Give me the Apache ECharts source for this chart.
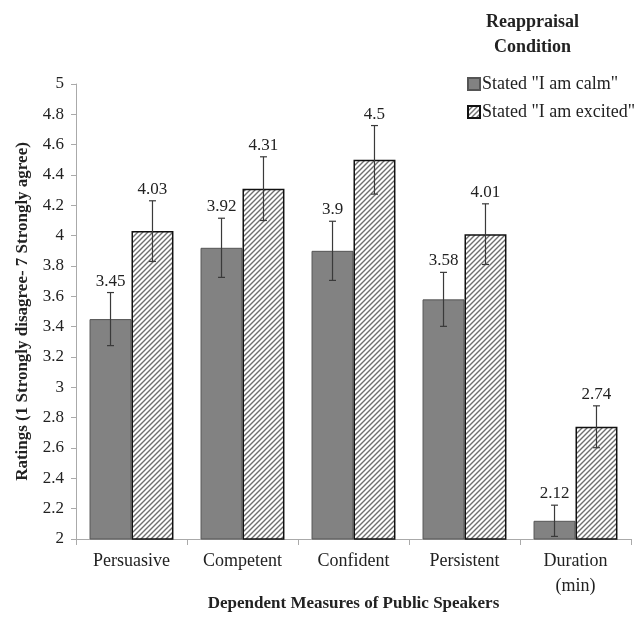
<!DOCTYPE html>
<html>
<head>
<meta charset="utf-8">
<script src="https://cdn.jsdelivr.net/npm/echarts@6/dist/echarts.min.js"></script>
<style>html,body{margin:0;padding:0;background:#fff}#c{width:639px;height:619px}</style>
</head>
<body>
<div id="c"></div>
<script>
const categories = ['Persuasive', 'Competent', 'Confident', 'Persistent', 'Duration\n(min)'];
const calmValues = [3.45, 3.92, 3.9, 3.58, 2.12];
const excitedValues = [4.03, 4.31, 4.5, 4.01, 2.74];
const calmErrors = [0.175, 0.195, 0.195, 0.178, 0.103];
const excitedErrors = [0.2, 0.21, 0.226, 0.2, 0.138];
const yTicks = { min: 2, max: 5, interval: 0.2 };

const FONT = 'Liberation Serif';

function hatch() {
  const s = 5;
  const cv = document.createElement('canvas');
  cv.width = s; cv.height = s;
  const ctx = cv.getContext('2d');
  ctx.fillStyle = '#ffffff';
  ctx.fillRect(0, 0, s, s);
  ctx.strokeStyle = '#707070';
  ctx.lineWidth = 1.4;
  ctx.beginPath();
  ctx.moveTo(0, s); ctx.lineTo(s, 0);
  ctx.moveTo(-1, 1); ctx.lineTo(1, -1);
  ctx.moveTo(s - 1, s + 1); ctx.lineTo(s + 1, s - 1);
  ctx.stroke();
  return cv;
}

const chart = echarts.init(document.getElementById('c'));
const BAR_FRAC = 0.378;

function errSeries(values, errors, sign) {
  return {
    type: 'custom',
    silent: true,
    z: 10,
    data: values.map((v, i) => [i, v, errors[i]]),
    renderItem: function (params, api) {
      const ci = api.value(0), v = api.value(1), e = api.value(2);
      const band = api.size([1, 0])[0];
      const off = sign * band * BAR_FRAC / 2;
      const t = api.coord([ci, v + e]);
      const b = api.coord([ci, v - e]);
      const x = t[0] + off;
      const cap = 3.5;
      const st = { stroke: '#3a3a3a', lineWidth: 1.2 };
      return {
        type: 'group',
        children: [
          { type: 'line', shape: { x1: x, y1: t[1], x2: x, y2: b[1] }, style: st },
          { type: 'line', shape: { x1: x - cap, y1: t[1], x2: x + cap, y2: t[1] }, style: st },
          { type: 'line', shape: { x1: x - cap, y1: b[1], x2: x + cap, y2: b[1] }, style: st },
          { type: 'text', x: x, y: t[1] - 3, style: { text: String(v), textAlign: 'center', textVerticalAlign: 'bottom', fontFamily: FONT, fontSize: 17, fill: '#222' } }
        ]
      };
    }
  };
}

chart.setOption({
  animation: false,
  textStyle: { fontFamily: FONT },
  grid: { left: 76, right: 8, top: 84, bottom: 80, containLabel: false, outerBoundsMode: 'none' },
  graphic: [{
    type: 'text', left: 486, top: 10,
    style: { text: 'Reappraisal\nCondition', textAlign: 'center', fontFamily: FONT, fontWeight: 'bold', fontSize: 18, lineHeight: 25, fill: '#222', x: 50 }
  }],
  legend: {
    orient: 'vertical', left: 462, top: 70, itemGap: 10, itemWidth: 12, itemHeight: 12, icon: 'rect',
    textStyle: { fontFamily: FONT, fontSize: 18, color: '#222', padding: [0, 0, 0, -3] },
    data: ['Stated "I am calm"', 'Stated "I am excited"']
  },
  xAxis: {
    type: 'category', data: categories,
    name: 'Dependent Measures of Public Speakers', nameLocation: 'middle', nameGap: 56, nameMoveOverlap: false,
    nameTextStyle: { fontFamily: FONT, fontWeight: 'bold', fontSize: 17, color: '#222' },
    axisLine: { lineStyle: { color: '#aaa' } },
    axisTick: { show: true, length: 6, lineStyle: { color: '#aaa' } },
    axisLabel: { fontFamily: FONT, fontSize: 18, color: '#222', margin: 10, lineHeight: 25 }
  },
  yAxis: {
    type: 'value', min: yTicks.min, max: yTicks.max, interval: yTicks.interval,
    name: 'Ratings (1 Strongly disagree- 7 Strongly agree)', nameLocation: 'middle', nameGap: 45,
    nameTextStyle: { fontFamily: FONT, fontWeight: 'bold', fontSize: 17, color: '#222' },
    splitLine: { show: false },
    axisLine: { show: true, lineStyle: { color: '#aaa' } },
    axisTick: { show: true, length: 5, lineStyle: { color: '#aaa' } },
    axisLabel: { fontFamily: FONT, fontSize: 17, color: '#222', margin: 12 }
  },
  series: [
    {
      name: 'Stated "I am calm"', type: 'bar', data: calmValues,
      barWidth: (BAR_FRAC * 100) + '%', barGap: '0%',
      itemStyle: { color: '#828282', borderColor: '#555', borderWidth: 1 }
    },
    {
      name: 'Stated "I am excited"', type: 'bar', data: excitedValues,
      barWidth: (BAR_FRAC * 100) + '%', barGap: '0%',
      itemStyle: { color: { image: hatch(), repeat: 'repeat' }, borderColor: '#111', borderWidth: 1.5 }
    },
    errSeries(calmValues, calmErrors, -1),
    errSeries(excitedValues, excitedErrors, 1)
  ]
});
</script>
</body>
</html>
